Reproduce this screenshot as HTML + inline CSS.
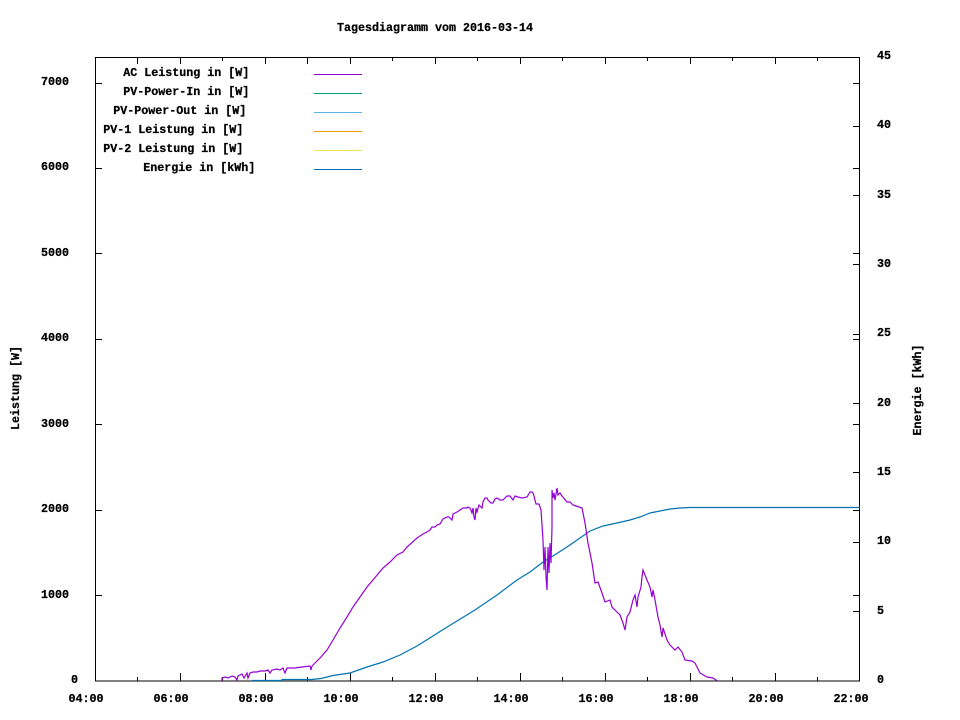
<!DOCTYPE html>
<html>
<head>
<meta charset="utf-8">
<style>
  html,body{margin:0;padding:0;background:#fff;}
  svg{display:block;}
  text{font-family:"Liberation Mono","DejaVu Sans Mono",monospace;font-size:11.67px;font-weight:bold;fill:#000;stroke:#000;stroke-width:0.25px;}
</style>
</head>
<body>
<svg width="960" height="720" viewBox="0 0 960 720" xmlns="http://www.w3.org/2000/svg">
  <rect x="0" y="0" width="960" height="720" fill="#fff"/>

  <!-- Title -->
  <text x="337" y="31" textLength="196" lengthAdjust="spacingAndGlyphs">Tagesdiagramm vom 2016-03-14</text>

  <!-- Frame -->
  <g shape-rendering="crispEdges" stroke="#000" stroke-width="1" fill="none">
    <rect x="95.5" y="57.5" width="764" height="623.5"/>
    <path d="M95 595.5h7M95 510.5h7M95 424.5h7M95 339.5h7M95 253.5h7M95 168.5h7M95 83.5h7"/>
    <path d="M853 595.5h7M853 510.5h7M853 424.5h7M853 339.5h7M853 253.5h7M853 168.5h7M853 83.5h7"/>
    <path d="M853 611.5h7M853 542.5h7M853 472.5h7M853 403.5h7M853 334.5h7M853 264.5h7M853 195.5h7M853 126.5h7"/>
    <path d="M137.5 681v-4M180.5 681v-8M222.5 681v-4M265.5 681v-8M307.5 681v-4M350.5 681v-8M392.5 681v-4M435.5 681v-8M477.5 681v-4M520.5 681v-8M562.5 681v-4M605.5 681v-8M647.5 681v-4M690.5 681v-8M732.5 681v-4M775.5 681v-8M817.5 681v-4"/>
    <path d="M137.5 57v7M180.5 57v7M222.5 57v4M265.5 57v7M307.5 57v7M350.5 57v7M392.5 57v4M435.5 57v7M477.5 57v4M520.5 57v7M562.5 57v4M605.5 57v7M647.5 57v4M690.5 57v7M732.5 57v4M775.5 57v7M817.5 57v4"/>
  </g>

  <!-- Left y labels -->
  <text x="71" y="683">0</text>
  <text x="41" y="598" textLength="28" lengthAdjust="spacingAndGlyphs">1000</text>
  <text x="41" y="512" textLength="28" lengthAdjust="spacingAndGlyphs">2000</text>
  <text x="41" y="427" textLength="28" lengthAdjust="spacingAndGlyphs">3000</text>
  <text x="41" y="341" textLength="28" lengthAdjust="spacingAndGlyphs">4000</text>
  <text x="41" y="256" textLength="28" lengthAdjust="spacingAndGlyphs">5000</text>
  <text x="41" y="170" textLength="28" lengthAdjust="spacingAndGlyphs">6000</text>
  <text x="41" y="85" textLength="28" lengthAdjust="spacingAndGlyphs">7000</text>

  <!-- Right y2 labels -->
  <text x="877" y="683">0</text>
  <text x="877" y="614">5</text>
  <text x="877" y="544">10</text>
  <text x="877" y="475">15</text>
  <text x="877" y="406">20</text>
  <text x="877" y="336">25</text>
  <text x="877" y="267">30</text>
  <text x="877" y="198">35</text>
  <text x="877" y="128">40</text>
  <text x="877" y="59">45</text>

  <!-- X labels -->
  <text x="68.5" y="702" textLength="35" lengthAdjust="spacingAndGlyphs">04:00</text>
  <text x="153.5" y="702" textLength="35" lengthAdjust="spacingAndGlyphs">06:00</text>
  <text x="238.5" y="702" textLength="35" lengthAdjust="spacingAndGlyphs">08:00</text>
  <text x="323.5" y="702" textLength="35" lengthAdjust="spacingAndGlyphs">10:00</text>
  <text x="408.5" y="702" textLength="35" lengthAdjust="spacingAndGlyphs">12:00</text>
  <text x="493.5" y="702" textLength="35" lengthAdjust="spacingAndGlyphs">14:00</text>
  <text x="578.5" y="702" textLength="35" lengthAdjust="spacingAndGlyphs">16:00</text>
  <text x="663.5" y="702" textLength="35" lengthAdjust="spacingAndGlyphs">18:00</text>
  <text x="748.5" y="702" textLength="35" lengthAdjust="spacingAndGlyphs">20:00</text>
  <text x="833.5" y="702" textLength="35" lengthAdjust="spacingAndGlyphs">22:00</text>

  <!-- Axis titles -->
  <text transform="translate(19,388) rotate(-90)" text-anchor="middle">Leistung [W]</text>
  <text transform="translate(921,390) rotate(-90)" text-anchor="middle">Energie [kWh]</text>

  <!-- Legend -->
  <text x="123.3" y="76" textLength="126" lengthAdjust="spacingAndGlyphs">AC Leistung in [W]</text>
  <text x="123.3" y="95" textLength="126" lengthAdjust="spacingAndGlyphs">PV-Power-In in [W]</text>
  <text x="113.3" y="114" textLength="133" lengthAdjust="spacingAndGlyphs">PV-Power-Out in [W]</text>
  <text x="103.3" y="133" textLength="140" lengthAdjust="spacingAndGlyphs">PV-1 Leistung in [W]</text>
  <text x="103.3" y="152" textLength="140" lengthAdjust="spacingAndGlyphs">PV-2 Leistung in [W]</text>
  <text x="143.3" y="171" textLength="112" lengthAdjust="spacingAndGlyphs">Energie in [kWh]</text>
  <g shape-rendering="crispEdges" stroke-width="1">
    <line x1="314" y1="74.5" x2="362" y2="74.5" stroke="#9400d3"/>
    <line x1="314" y1="93.5" x2="362" y2="93.5" stroke="#009e73"/>
    <line x1="314" y1="112.5" x2="362" y2="112.5" stroke="#56b4e9"/>
    <line x1="314" y1="131.5" x2="362" y2="131.5" stroke="#e69f00"/>
    <line x1="314" y1="150.5" x2="362" y2="150.5" stroke="#f0e442"/>
    <line x1="314" y1="169.5" x2="362" y2="169.5" stroke="#0072b2"/>
  </g>

  <!-- Energie curve -->
  <polyline fill="none" stroke="#0072b2" stroke-width="1.2" points="252,680.5 282,680.5 282,679.5 312,679.5 321,678.5 333,675.5 350,673 367,667 383,662 400,655 417,646 425,641 433,636 440,631.5 457,621 475,610 497,595 517,580 530,572 543,562 553,556 567,547 580,538 590,531 603,526 617,523 630,520 640,517 650,513 660,511 670,509 680,508 690,507.5 860,507.5"/>

  <!-- AC Leistung curve -->
  <polyline fill="none" stroke="#9400d3" stroke-width="1.2" stroke-linejoin="miter" points="222,681 222,678 225,677 228,678 232,676 235,677 237,680 238,676 242,674 244,678 247,673 248,678 250,673 253,672 257,672 260,671 265,671 268,670 270,673 272,670 277,669 280,670 283,668 285,673 287,668 295,668 302,667 310,666 311,670 312,666 315,663 320,658 327,650 333,640 340,628 347,617 353,607 360,597 367,587 373,580 383,568 390,562 397,555 403,552 407,547 417,538 423,534 427,532 430,530 432,527 435,527 437,525 440,524 443,519 447,517 449,517 452,520 453,514 457,512 460,510 463,508 467,508 468,507 470,508 472,513 473,508 474,517 475,520 476,508 477,512 479,505 482,508 483,502 485,498 487,498 488,500 491,503 493,503 495,499 497,498 500,500 503,500 507,496 510,496 513,500 515,496 518,497 522,498 527,497 530,492 532,492 533,493 534,496 536,504 539,504 541,510 543,540 544,570 545,547 546,577 547,590 548,547 549,573 550,543 551,563 552,527 552,490 553,498 554,493 555,500 557,488 558,495 560,493 562,496 567,502 570,502 573,505 582,508 585,523 588,543 592,563 595,583 598,582 602,593 605,602 610,600 612,607 617,612 620,615 623,623 625,630 627,617 630,612 633,600 635,595 637,607 638,597 641,587 642,577 643,570 647,580 650,587 652,597 653,590 655,600 658,617 660,625 662,637 663,628 667,640 670,645 675,650 678,647 682,652 685,660 692,661 695,663 700,673 707,677 713,678 716,680 718,681"/>
</svg>
</body>
</html>
